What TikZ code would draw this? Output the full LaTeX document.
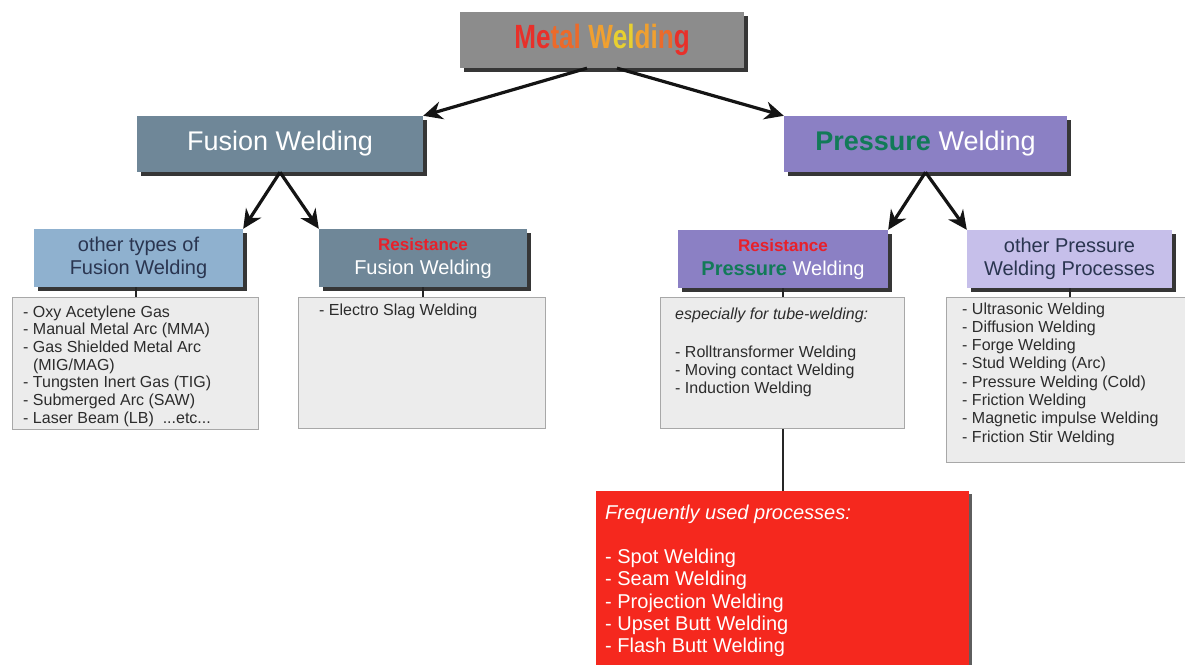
\documentclass[tikz,border=0pt]{standalone}
\usepackage{fontspec}
\setmainfont{Liberation Sans}
\usetikzlibrary{arrows.meta,shadows,calc}
\definecolor{mwgray}{HTML}{8C8C8C}
\definecolor{fusion}{HTML}{6F8798}
\definecolor{fusionlt}{HTML}{8FB1CF}
\definecolor{press}{HTML}{8B80C4}
\definecolor{presslt}{HTML}{C6BFEA}
\definecolor{listfill}{HTML}{ECECEC}
\definecolor{listdraw}{HTML}{A8A8A8}
\definecolor{navy}{HTML}{2A3550}
\definecolor{pgreen}{HTML}{127A58}
\definecolor{rred}{HTML}{E8202A}
\definecolor{boxred}{HTML}{F5281E}
\definecolor{listtxt}{HTML}{2C2C2C}
\definecolor{shadowc}{HTML}{363636}
\definecolor{mwA}{HTML}{E8302A}
\definecolor{mwB}{HTML}{EC6A2A}
\definecolor{mwC}{HTML}{F0A030}
\definecolor{mwD}{HTML}{E8D030}
\begin{document}
\begin{tikzpicture}[x=1pt,y=-1pt,
  titlebox/.style={rectangle, inner sep=0pt, align=center,
    drop shadow={shadow xshift=4pt, shadow yshift=-4pt, fill=shadowc, opacity=1}},
  listbox/.style={rectangle, fill=listfill, draw=listdraw, line width=1.2pt,
    inner sep=0pt, anchor=north west},
  listtext/.style={anchor=base west, inner sep=0pt, text=listtxt,
    font=\fontsize{16}{17.7}\selectfont},
  bigarrow/.style={-{Stealth[length=19pt,width=18pt]}, line width=3.2pt, black!92},
  link/.style={line width=2pt, black!85}]
\clip (0,0) rectangle (1185,664);
\fill[white] (0,0) rectangle (1185,664);

% top level
\node[titlebox, fill=mwgray, minimum width=284pt, minimum height=56pt,
  font=\bfseries\fontsize{30}{32}\selectfont] (metal) at (602,40)
  {\scalebox{0.87}[1.12]{\textcolor{mwA}{M}\textcolor{mwA}{e}\textcolor{mwB}{t}\textcolor{mwB}{a}\textcolor{mwB}{l} \textcolor{mwC}{W}\textcolor{mwD}{e}\textcolor{mwD}{l}\textcolor{mwC}{d}\textcolor{mwC}{i}\textcolor{mwB}{n}\textcolor{mwA}{g}}};

\node[titlebox, fill=fusion, minimum width=286pt, minimum height=56pt,
  text=white, font=\fontsize{27}{30}\selectfont] (fusion) at (280,144) {Fusion Welding};
\node[titlebox, fill=press, minimum width=283pt, minimum height=56pt,
  font=\fontsize{27}{30}\selectfont] (pressure) at (925.5,144)
  {{\bfseries\color{pgreen}Pressure} {\color{white}Welding}};

% second level
\node[titlebox, fill=fusionlt, minimum width=209pt, minimum height=58pt,
  text=navy, font=\fontsize{20}{23}\selectfont] (ot) at (138.5,258)
  {other types of\\Fusion Welding};
\node[titlebox, fill=fusion, minimum width=208pt, minimum height=58pt,
  text=white, font=\fontsize{20}{24}\selectfont] (rf) at (423,258)
  {{\bfseries\fontsize{17}{20}\selectfont\color{rred}Resistance}\\Fusion Welding};
\node[titlebox, fill=press, minimum width=210pt, minimum height=58pt,
  font=\fontsize{20}{24}\selectfont] (rp) at (783,259)
  {{\bfseries\fontsize{17}{20}\selectfont\color{rred}Resistance}\\{\bfseries\color{pgreen}Pressure} {\color{white}Welding}};
\node[titlebox, fill=presslt, minimum width=205pt, minimum height=58pt,
  text=navy, font=\fontsize{20}{22.5}\selectfont] (op) at (1069.5,259)
  {other Pressure\\Welding Processes};

% list boxes
\node[listbox, minimum width=246pt, minimum height=132pt] (l1) at (12,297) {};
\node[listbox, minimum width=247pt, minimum height=131pt] (l2) at (298,297) {};
\node[listbox, minimum width=244pt, minimum height=131pt] (l3) at (660,297) {};
\node[listbox, minimum width=252pt, minimum height=165pt] (l4) at (946,297) {};

\node[listtext] (l1t) at (23,317) {\parbox[t]{232pt}{\raggedright
  - Oxy Acetylene Gas\\
  - Manual Metal Arc (MMA)\\
  - Gas Shielded Metal Arc\\
  \hspace*{9.8pt}(MIG/MAG)\\
  - Tungsten Inert Gas (TIG)\\
  - Submerged Arc (SAW)\\
  - Laser Beam (LB) \ ...etc...}};
\node[listtext] (l2t) at (319,315) {\parbox[t]{220pt}{\raggedright - Electro Slag Welding}};
\node[listtext, font=\fontsize{16}{18}\selectfont] (l3t) at (675,319) {\parbox[t]{225pt}{\raggedright
  \textit{especially for tube-welding:}\\[20pt]
  - Rolltransformer Welding\\
  - Moving contact Welding\\
  - Induction Welding}};
\node[listtext, font=\fontsize{16}{18.3}\selectfont] (l4t) at (962,314) {\parbox[t]{222pt}{\raggedright
  - Ultrasonic Welding\\
  - Diffusion Welding\\
  - Forge Welding\\
  - Stud Welding (Arc)\\
  - Pressure Welding (Cold)\\
  - Friction Welding\\
  - Magnetic impulse Welding\\
  - Friction Stir Welding}};

% red box
\node[rectangle, fill=boxred, inner sep=0pt, anchor=north west,
  minimum width=373pt, minimum height=200pt,
  drop shadow={shadow xshift=3pt, shadow yshift=-3pt, fill=shadowc, opacity=0.8}] (red) at (596,491) {};
\node[anchor=base west, inner sep=0pt, text=white,
  font=\fontsize{20}{22.3}\selectfont] (redt) at (605,519) {\parbox[t]{350pt}{\raggedright
  \textit{Frequently used processes:}\\[22.3pt]
  - Spot Welding\\
  - Seam Welding\\
  - Projection Welding\\
  - Upset Butt Welding\\
  - Flash Butt Welding}};

% arrows
\draw[bigarrow] ([xshift=-15pt]metal.south) -- (fusion.north east);
\draw[bigarrow] ([xshift=15pt]metal.south) -- (pressure.north west);
\draw[bigarrow] (fusion.south) -- (ot.north east);
\draw[bigarrow] (fusion.south) -- (rf.north west);
\draw[bigarrow] (pressure.south) -- (rp.north east);
\draw[bigarrow] (pressure.south) -- (op.north west);

% links
\draw[link] (ot.south -| l1.north) -- (l1.north);
\draw[link] (rf.south) -- (rf.south |- l2.north);
\draw[link] (rp.south -| l3.north) -- (l3.north);
\draw[link] (op.south) -- (op.south |- l4.north);
\draw[link] (l3.south) -- (red.north -| l3.south);
\end{tikzpicture}
\end{document}
